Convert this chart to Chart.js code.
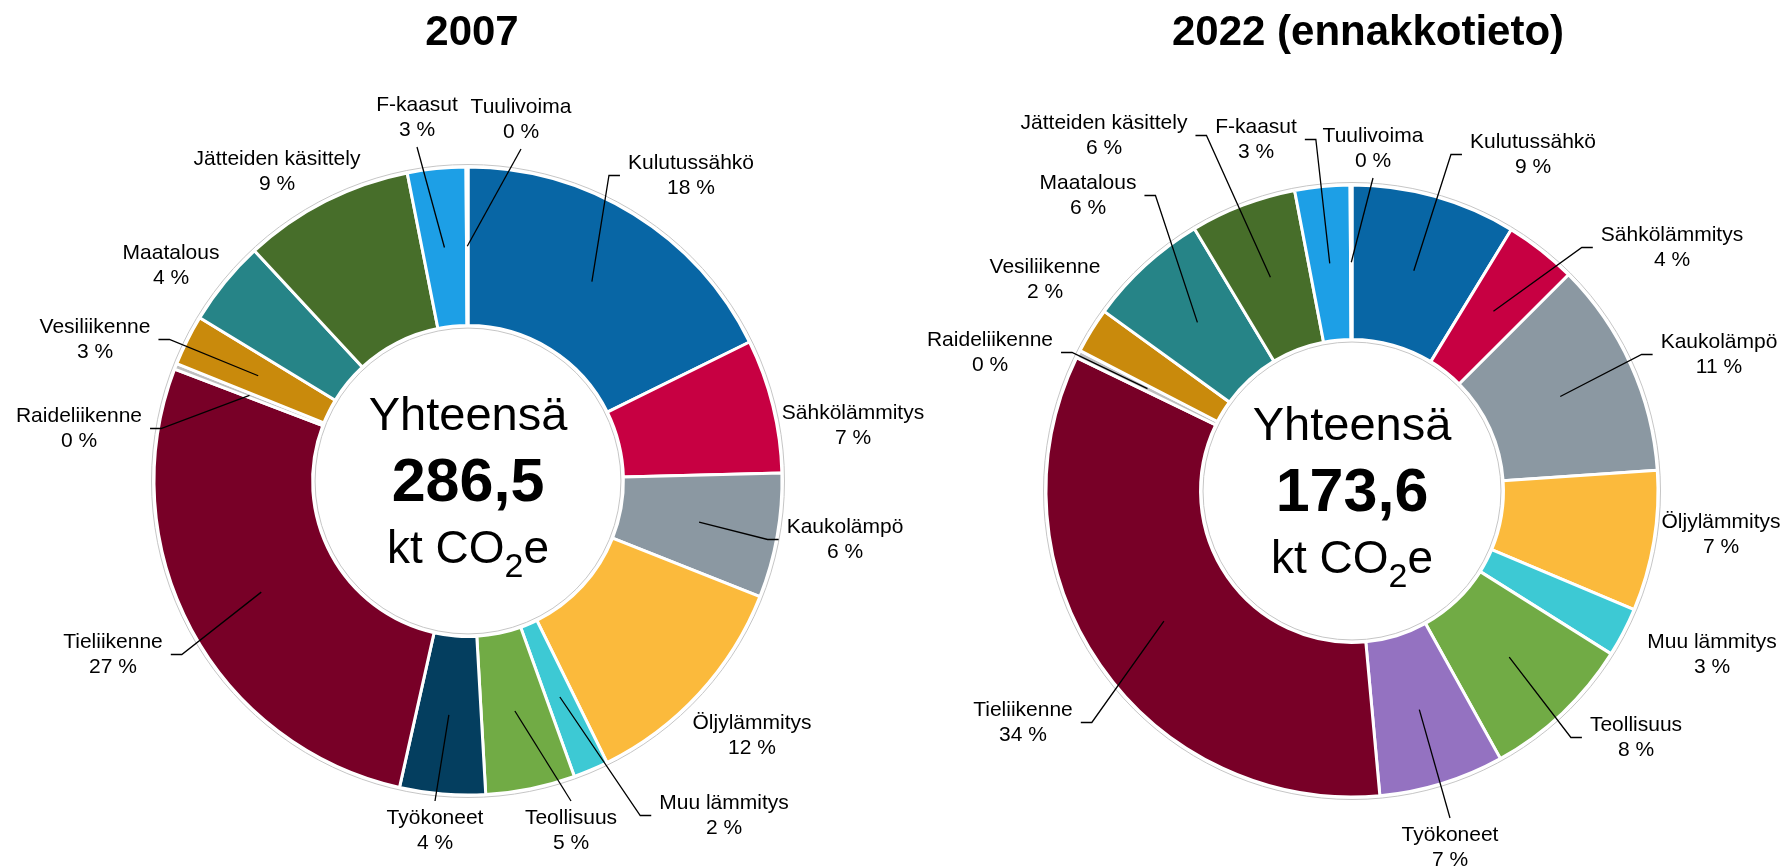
<!DOCTYPE html>
<html>
<head>
<meta charset="utf-8">
<script src="https://cdn.jsdelivr.net/npm/chart.js@4.4.1/dist/chart.umd.min.js"></script>
<style>
  html, body { margin: 0; padding: 0; background: #fff; }
  #wrap { position: relative; width: 1785px; height: 866px; }
  #wrap canvas { position: absolute; left: 0; top: 0; }
</style>
</head>
<body>
<div id="wrap">
  <canvas id="c2007" width="1785" height="866"></canvas>
  <canvas id="c2022" width="1785" height="866"></canvas>
</div>
<script>
const categories = ["Kulutussähkö", "Sähkölämmitys", "Kaukolämpö", "Öljylämmitys", "Muu lämmitys",
  "Teollisuus", "Työkoneet", "Tieliikenne", "Raideliikenne", "Vesiliikenne", "Maatalous",
  "Jätteiden käsittely", "F-kaasut", "Tuulivoima"];

// osuudet (%), luettu kuvasta
const share2007 = [17.7, 6.9, 6.4, 11.7, 1.8, 4.6, 4.4, 27.3, 0.3, 2.6, 4.4, 8.8, 3.0, 0.1];
const share2022 = [8.7, 3.8, 11.4, 7.4, 2.6, 8.0, 6.6, 33.6, 0.4, 2.4, 6.4, 5.6, 2.9, 0.1];

const total2007 = "286,5";
const total2022 = "173,6";

const colors2007 = ["#0866A5", "#C70042", "#8B98A2", "#FBBA3C", "#3DC9D4", "#71AB45", "#043E5F",
  "#780027", "#BFBFBF", "#C98A0C", "#268487", "#476E2A", "#1D9FE6", "#9DC3E6"];
const colors2022 = colors2007.slice();
colors2022[6] = "#9472C1"; // työkoneet eri värillä

const FONT = "'Liberation Sans', Arial, sans-serif";

// label name-line centre, offset from donut centre; side = where the leader line leaves the label
const pos2007 = [[223, -318], [385, -68], [377, 46], [284, 242], [256, 322], [103, 337], [-33, 337],
  [-355, 161], [-389, -65], [-373, -154], [-297, -228], [-191, -322], [-51, -376], [53, -374]];
const side2007 = ["L", "", "L", "", "L", "T", "T", "R", "R", "R", "", "", "B", "B"];

const pos2022 = [[181, -349], [320, -256], [367, -149], [369, 31], [360, 151], [284, 234], [98, 344],
  [-329, 219], [-362, -151], [-307, -224], [-264, -308], [-248, -368], [-96, -364], [21, -355]];
const side2022 = ["L", "L", "L", "", "", "L", "T", "R", "R", "", "R", "R", "R", "B"];

const donutLabels = {
    id: "donutLabels",
    afterDatasetsDraw(chart, args, opts) {
        const ctx = chart.ctx;
        const meta = chart.getDatasetMeta(0);
        const data = chart.data.datasets[0].data;
        const sum = data.reduce((a, b) => a + b, 0);
        const first = meta.data[0];
        const cx = first.x, cy = first.y;
        const R = first.outerRadius, r = first.innerRadius;

        ctx.save();
        // thin grey rim outside the white borders
        ctx.strokeStyle = "#c6c6c6";
        ctx.lineWidth = 1;
        ctx.beginPath();
        ctx.arc(cx, cy, R + 2.5, 0, Math.PI * 2);
        ctx.stroke();
        ctx.beginPath();
        ctx.arc(cx, cy, r - 2.5, 0, Math.PI * 2);
        ctx.stroke();

        // title
        ctx.fillStyle = "#000";
        ctx.textAlign = "center";
        ctx.textBaseline = "alphabetic";
        ctx.font = "bold 42px " + FONT;
        ctx.fillText(opts.title, opts.titleX, 45);

        // centre text
        ctx.font = "47px " + FONT;
        ctx.fillText("Yhteensä", cx, cy - 51);
        ctx.font = "bold 61px " + FONT;
        ctx.fillText(opts.total, cx, cy + 20);
        ctx.font = "46px " + FONT;
        const a = "kt CO", e = "e";
        const wa = ctx.measureText(a).width, we = ctx.measureText(e).width;
        ctx.font = "34px " + FONT;
        const w2 = ctx.measureText("2").width;
        const x0 = cx - (wa + w2 + we) / 2;
        ctx.textAlign = "left";
        ctx.fillText("2", x0 + wa, cy + 96);
        ctx.font = "46px " + FONT;
        ctx.fillText(a, x0, cy + 82);
        ctx.fillText(e, x0 + wa + w2, cy + 82);

        // category labels + leader lines
        ctx.font = "21px " + FONT;
        ctx.textAlign = "center";
        ctx.textBaseline = "middle";
        ctx.strokeStyle = "#000";
        ctx.lineWidth = 1.3;
        meta.data.forEach((arc, i) => {
            const x = cx + opts.pos[i][0];
            const y = cy + opts.pos[i][1];
            const name = chart.data.labels[i];
            const pct = Math.round(data[i] / sum * 100) + " %";
            ctx.fillText(name, x, y);
            ctx.fillText(pct, x, y + 25);

            const side = opts.side[i];
            if (!side) return;
            const w = Math.max(ctx.measureText(name).width, ctx.measureText(pct).width);
            const p = arc.getCenterPoint();
            const ym = y + 12.5;
            ctx.beginPath();
            if (side === "L") {
                ctx.moveTo(x - w / 2 - 8, ym);
                ctx.lineTo(x - w / 2 - 19, ym);
            } else if (side === "R") {
                ctx.moveTo(x + w / 2 + 8, ym);
                ctx.lineTo(x + w / 2 + 19, ym);
            } else if (side === "T") {
                ctx.moveTo(x, y - 17);
            } else {
                ctx.moveTo(x, y + 42);
            }
            ctx.lineTo(p.x, p.y);
            ctx.stroke();
        });
        ctx.restore();
    },
};

function makeChart(id, shares, colors, opts) {
    return new Chart(document.getElementById(id), {
        type: "doughnut",
        data: {
            labels: categories,
            datasets: [{
                data: shares,
                backgroundColor: colors,
                borderColor: "#ffffff",
                borderWidth: 3,
            }],
        },
        options: {
            responsive: false,
            animation: false,
            events: [],
            rotation: 0,
            radius: opts.radius,
            cutout: "49.5%",
            layout: { padding: opts.padding },
            plugins: {
                legend: { display: false },
                tooltip: { enabled: false },
                donutLabels: opts,
            },
        },
        plugins: [donutLabels],
    });
}

makeChart("c2007", share2007, colors2007, {
    title: "2007", titleX: 472, total: total2007,
    radius: 314, padding: { left: 154, right: 1003, top: 167, bottom: 71 },
    pos: pos2007, side: side2007,
});

makeChart("c2022", share2022, colors2022, {
    title: "2022 (ennakkotieto)", titleX: 1368, total: total2022,
    radius: 306, padding: { left: 1046, right: 127, top: 185, bottom: 69 },
    pos: pos2022, side: side2022,
});
</script>
</body>
</html>
